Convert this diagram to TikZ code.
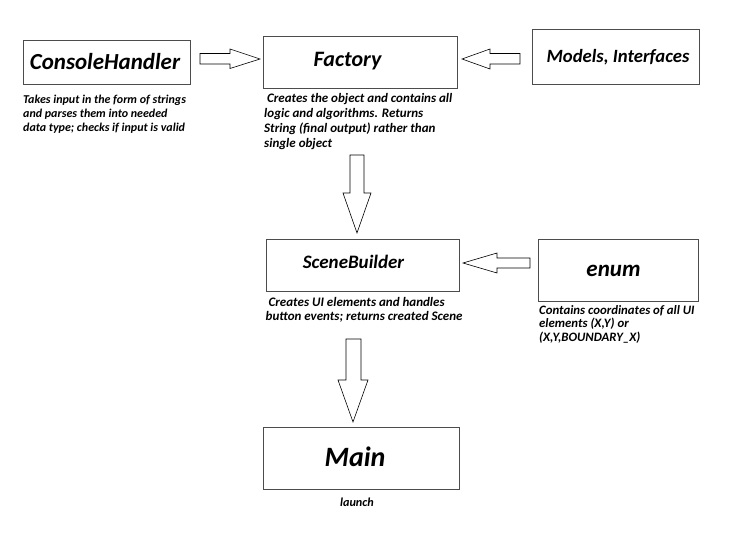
\documentclass[tikz,border=0pt]{standalone}
\usepackage{fontspec}
\setmainfont{Carlito}
\begin{document}
\begin{tikzpicture}[x=1pt,y=-1pt,
  box/.style={draw=black!70,line width=0.9pt,inner sep=0pt,fill=white},
  title/.style={font=\bfseries\itshape\fontsize{#1}{#1}\selectfont,inner sep=0pt,anchor=base},
  desc/.style 2 args={font=\bfseries\itshape\fontsize{#1}{#2}\selectfont,inner sep=0pt,anchor=base west,align=left},
  barrow/.style={draw=black,line width=0.6pt,fill=white,line join=miter}]
\useasboundingbox (0,0) rectangle (732,548);
% boxes
\node[box,minimum width=167pt,minimum height=44pt] (ch) at (106.5,62) {};
\node[box,minimum width=194pt,minimum height=52pt] (fa) at (360,62) {};
\node[box,minimum width=167pt,minimum height=55pt] (mi) at (615.5,56.5) {};
\node[box,minimum width=193pt,minimum height=52pt] (sb) at (362.5,265) {};
\node[box,minimum width=160pt,minimum height=62pt] (en) at (618,270) {};
\node[box,minimum width=196pt,minimum height=62pt] (ma) at (361,458) {};
% titles
\node[title=23] (cht) at (105,70) {ConsoleHandler};
\node[title=22] (fat) at (347.5,67) {Factory};
\node[title=18.7] (mit) at (618,62.5) {Models, Interfaces};
\node[title=19] (sbt) at (353.5,268.5) {SceneBuilder};
\node[title=23] (ent) at (613.5,277) {enum};
\node[title=28] (mat) at (355,467) {Main};
% descriptions (anchored at the baseline of their last line)
\node[desc={12}{14}] (chd) at (23,131.5) {Takes input in the form of strings\\and parses them into needed\\data type; checks if input is valid};
\node[desc={13}{15}] (fad) at (264,147.5) {\ Creates the object and contains all\\logic and algorithms. Returns\\String (final output) rather than\\single object};
\node[desc={13}{14.5}] (sbd) at (265.5,321) {\ Creates UI elements and handles\\button events; returns created Scene};
\node[desc={12.8}{13.5}] (end) at (539,341.5) {Contains coordinates of all UI\\elements (X,Y) or\\(X,Y,BOUNDARY\_X)};
\node[title=12.2] (lau) at (357,507) {launch};
% block arrows
\draw[barrow] (200,53.5) -- (230,53.5) -- (230,49) -- (260,59) -- (230,68.5) -- (230,64) -- (200,64) -- cycle;
\draw[barrow] (520,53.5) -- (490,53.5) -- (490,49) -- (462,59) -- (490,69) -- (490,64) -- (520,64) -- cycle;
\draw[barrow] (530,258) -- (497,258) -- (497,253) -- (463,263) -- (497,273) -- (497,268) -- (530,268) -- cycle;
\draw[barrow] (350,155) -- (350,193) -- (343,193) -- (357,233) -- (371,193) -- (364,193) -- (364,155) -- cycle;
\draw[barrow] (346,339) -- (346,380) -- (338,380) -- (353,422) -- (368,380) -- (361,380) -- (361,339) -- cycle;
\end{tikzpicture}
\end{document}
